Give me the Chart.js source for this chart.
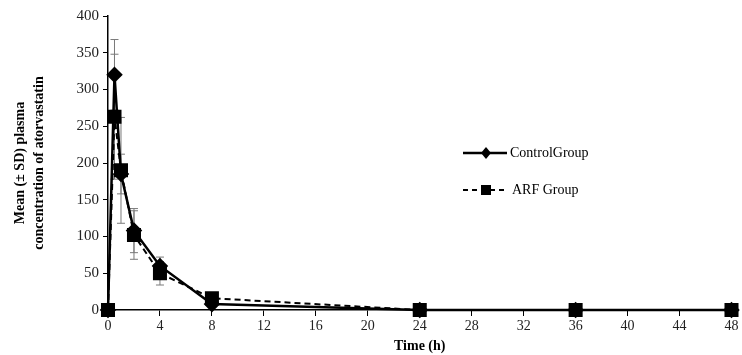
<!DOCTYPE html>
<html>
<head>
<meta charset="utf-8">
<script src="https://cdn.jsdelivr.net/npm/chart.js@4.4.1/dist/chart.umd.min.js"></script>
<style>
  body { margin: 0; background: #fff; }
  #wrap { width: 742px; height: 355px; }
</style>
</head>
<body>
<div id="wrap"><canvas id="miGrafico" width="742" height="355"></canvas></div>
<script>
// time points (h)
const tiempos = [0, 0.5, 1, 2, 4, 8, 24, 36, 48];
// mean plasma concentration
const control = [0, 320, 185, 108, 60, 8, 0, 0, 0];
const arf = [0, 263, 190, 102, 50, 16, 0, 0, 0];
// SD
const controlSD = [0, 48, 27, 30, 12, 0, 0, 0, 0];
const arfSD = [0, 85, 72, 33, 16, 0, 0, 0, 0];

const serie1 = "ControlGroup";
const serie2 = "ARF Group";

// draws the SD whiskers and the legend inside the plot
const barrasError = {
  id: 'barrasError',
  beforeDatasetsDraw(chart) {
    const ctx = chart.ctx;
    const x = chart.scales.x, y = chart.scales.y;
    ctx.save();
    ctx.strokeStyle = '#7a7a7a';
    ctx.lineWidth = 1;
    [[control, controlSD], [arf, arfSD]].forEach(function (par) {
      par[0].forEach(function (v, i) {
        const sd = par[1][i];
        if (!sd) return;
        const px = x.getPixelForValue(tiempos[i]);
        const top = y.getPixelForValue(v + sd);
        const bot = y.getPixelForValue(v - sd);
        ctx.beginPath();
        ctx.moveTo(px, top); ctx.lineTo(px, bot);
        ctx.moveTo(px - 4, top); ctx.lineTo(px + 4, top);
        ctx.moveTo(px - 4, bot); ctx.lineTo(px + 4, bot);
        ctx.stroke();
      });
    });
    ctx.restore();
  },
  afterDraw(chart) {
    const ctx = chart.ctx;
    ctx.save();
    ctx.fillStyle = '#000';
    ctx.strokeStyle = '#000';
    // control
    ctx.lineWidth = 2.5;
    ctx.setLineDash([]);
    ctx.beginPath(); ctx.moveTo(463, 153); ctx.lineTo(507, 153); ctx.stroke();
    ctx.beginPath();
    ctx.moveTo(486, 147); ctx.lineTo(491, 153); ctx.lineTo(486, 159); ctx.lineTo(481, 153);
    ctx.closePath(); ctx.fill();
    // ARF
    ctx.lineWidth = 2;
    ctx.setLineDash([5, 4]);
    ctx.beginPath(); ctx.moveTo(463, 190); ctx.lineTo(507, 190); ctx.stroke();
    ctx.setLineDash([]);
    ctx.fillRect(481, 185, 10, 10);
    ctx.font = '14px "Liberation Serif"';
    ctx.textBaseline = 'middle';
    ctx.fillText(serie1, 510, 153);
    ctx.fillText(serie2, 512, 190);
    ctx.restore();
  }
};

const GRAFICO = document.getElementById("miGrafico");

let grafica = new Chart(GRAFICO, {
  type: 'line',
  data: {
    datasets: [{
      label: serie2,
      data: tiempos.map((t, i) => ({ x: t, y: arf[i] })),
      borderColor: '#000',
      backgroundColor: '#000',
      borderWidth: 2,
      borderDash: [6, 4],
      pointStyle: 'rect',
      pointRadius: 8.5,
      pointHoverRadius: 8.5,
      tension: 0,
      clip: false
    }, {
      label: serie1,
      data: tiempos.map((t, i) => ({ x: t, y: control[i] })),
      borderColor: '#000',
      backgroundColor: '#000',
      borderWidth: 2.5,
      pointStyle: 'rectRot',
      pointRadius: 6.5,
      pointHoverRadius: 6.5,
      tension: 0,
      clip: false
    }]
  },
  options: {
    responsive: false,
    animation: false,
    layout: { padding: { top: 16, right: 3, left: 0, bottom: 0 } },
    plugins: {
      legend: { display: false },
      tooltip: { enabled: false }
    },
    scales: {
      x: {
        type: 'linear',
        min: 0,
        max: 48,
        ticks: { stepSize: 4, color: '#222', font: { family: 'Liberation Serif', size: 14 }, padding: 2 },
        grid: { display: true, drawOnChartArea: false, drawTicks: true, tickLength: 6, tickColor: '#000' },
        border: { color: '#000', width: 1.5 },
        title: {
          display: true,
          text: 'Time (h)',
          color: '#000',
          font: { family: 'Liberation Serif', size: 14, weight: 'bold' },
          padding: { top: 0, bottom: 0 }
        },
        afterFit: function (s) { s.height = 45; }
      },
      y: {
        min: 0,
        max: 400,
        ticks: { stepSize: 50, color: '#222', font: { family: 'Liberation Serif', size: 15 }, padding: 4 },
        grid: { display: true, drawOnChartArea: false, drawTicks: true, tickLength: 5, tickColor: '#000' },
        border: { color: '#000', width: 1.5 },
        title: {
          display: true,
          text: ['Mean (\u00b1 SD) plasma', 'concentration of atorvastatin'],
          color: '#000',
          font: { family: 'Liberation Serif', size: 14, weight: 'bold', lineHeight: 1.35 },
          padding: { top: 11, bottom: 6 }
        },
        afterFit: function (s) { s.width = 108; }
      }
    }
  },
  plugins: [barrasError]
});
</script>
</body>
</html>
